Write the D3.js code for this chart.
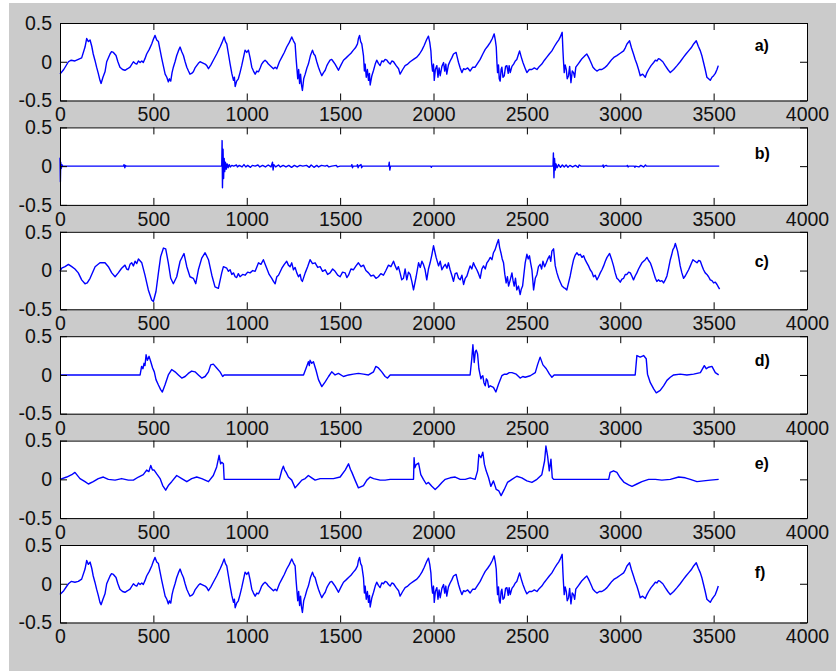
<!DOCTYPE html>
<html>
<head>
<meta charset="utf-8">
<script src="https://cdn.jsdelivr.net/npm/d3@7"></script>
<style>
  body { margin: 0; background: #ffffff; }
  svg { display: block; }
</style>
</head>
<body>
<svg id="chart" width="836" height="671"></svg>
<script>
// tick values shared by every panel
const xTicks = [0, 500, 1000, 1500, 2000, 2500, 3000, 3500, 4000];
const yTicks = [-0.5, 0, 0.5];
const panelNames = ["a)", "b)", "c)", "d)", "e)", "f)"];
const labelX = 3720;
const labelY = [0.216, 0.17, 0.117, 0.194, 0.2, 0.143];

// a) original signal, [sample, value]
const seriesA = [
  [0,-0.16],[20,-0.1],[45,0],[60,0.02],[80,0.01],[98,0.03],[116,0.05],[134,0.19],[143,0.3],[152,0.26],[161,0.28],
  [170,0.2],[178,0.1],[187,0.02],[196,-0.07],[205,-0.15],[214,-0.24],[220,-0.28],[230,-0.2],[241,-0.13],[250,0],
  [268,0.1],[276,0.13],[286,0.12],[300,0.08],[310,0],[321,-0.07],[335,-0.1],[348,-0.11],[362,-0.09],[375,-0.07],
  [393,0],[402,-0.02],[411,-0.03],[420,0.01],[429,-0.01],[438,0.01],[446,-0.01],[455,0.04],[464,0.1],[478,0.16],
  [491,0.23],[500,0.29],[509,0.34],[518,0.28],[527,0.26],[536,0.15],[545,0.04],[554,-0.06],[563,-0.16],[572,-0.2],
  [580,-0.26],[586,-0.22],[593,-0.25],[600,-0.14],[607,-0.07],[616,0],[625,0.08],[634,0.14],[643,0.19],[652,0.13],
  [661,0.08],[670,0],[679,-0.07],[688,-0.12],[696,-0.16],[705,-0.15],[714,-0.13],[723,-0.08],[732,-0.05],[741,-0.02],
  [750,0],[760,-0.01],[777,-0.03],[786,-0.05],[795,-0.09],[808,-0.04],[821,0.02],[839,0.1],[857,0.19],[868,0.25],
  [879,0.32],[886,0.26],[893,0.23],[902,0.1],[911,-0.03],[920,-0.15],[929,-0.24],[934,-0.2],[938,-0.32],[946,-0.25],
  [955,-0.22],[964,-0.14],[973,-0.05],[982,0.05],[991,0.15],[1000,0.12],[1009,0.15],[1018,0.05],[1027,-0.07],[1036,-0.12],
  [1045,-0.16],[1054,-0.12],[1063,-0.13],[1072,-0.08],[1080,-0.03],[1089,0],[1098,0.02],[1107,0],[1116,-0.03],[1130,-0.06],
  [1143,-0.09],[1152,-0.07],[1161,-0.09],[1175,0],[1188,0.06],[1201,0.12],[1214,0.19],[1228,0.25],[1241,0.32],[1250,0.27],
  [1259,0.23],[1264,0.05],[1268,-0.07],[1273,-0.22],[1278,-0.1],[1283,-0.28],[1288,-0.16],[1293,-0.3],[1298,-0.37],[1305,-0.22],
  [1313,-0.16],[1322,-0.08],[1330,-0.03],[1341,0.08],[1352,0.15],[1359,0.1],[1366,0.08],[1375,0],[1384,-0.07],[1393,-0.13],
  [1402,-0.18],[1411,-0.14],[1420,-0.11],[1429,-0.05],[1438,-0.01],[1446,0.02],[1455,0.03],[1464,0],[1473,-0.03],[1482,-0.07],
  [1491,-0.11],[1505,-0.04],[1518,0.02],[1532,0.05],[1545,0.08],[1558,0.11],[1571,0.15],[1582,0.18],[1593,0.23],[1598,0.3],
  [1604,0.34],[1610,0.26],[1616,0.23],[1625,0.08],[1630,-0.12],[1634,-0.03],[1640,-0.2],[1646,-0.1],[1652,-0.24],[1657,-0.15],
  [1661,-0.3],[1670,-0.18],[1679,-0.11],[1688,-0.03],[1696,0.02],[1705,-0.02],[1714,-0.05],[1723,0.01],[1732,0],[1741,0.03],
  [1750,0.02],[1759,-0.01],[1768,-0.03],[1777,0.01],[1786,0],[1800,-0.05],[1813,-0.09],[1821,-0.16],[1835,-0.1],[1848,-0.05],
  [1862,-0.03],[1875,0],[1893,0.03],[1911,0.06],[1925,0.1],[1938,0.15],[1950,0.21],[1964,0.29],[1973,0.33],[1980,0.25],
  [1986,0.14],[1990,-0.02],[1995,-0.12],[2000,-0.03],[2004,-0.24],[2010,-0.1],[2018,-0.05],[2024,-0.2],[2030,-0.08],[2036,-0.18],
  [2045,-0.06],[2054,-0.01],[2060,-0.12],[2066,-0.03],[2071,-0.16],[2080,-0.04],[2089,0.01],[2098,0.05],[2107,0.1],[2121,0.12],
  [2128,0.05],[2134,-0.01],[2143,-0.08],[2152,-0.14],[2161,-0.09],[2170,-0.1],[2183,-0.08],[2196,-0.12],[2210,-0.07],[2223,-0.07],
  [2236,-0.02],[2250,0.03],[2264,0.1],[2277,0.16],[2290,0.2],[2304,0.25],[2315,0.3],[2325,0.36],[2331,0.28],[2336,0.19],
  [2340,-0.02],[2343,-0.14],[2348,-0.04],[2352,-0.22],[2357,-0.25],[2362,-0.1],[2366,-0.07],[2372,-0.2],[2379,-0.18],[2386,-0.06],
  [2393,-0.05],[2400,-0.15],[2405,-0.05],[2411,-0.14],[2420,-0.06],[2429,-0.03],[2438,0.01],[2446,0.03],[2453,0.08],[2461,0.14],
  [2470,0.06],[2479,-0.01],[2490,-0.08],[2500,-0.14],[2513,-0.1],[2527,-0.1],[2540,-0.08],[2554,-0.1],[2567,-0.06],[2580,-0.03],
  [2594,0.02],[2607,0.06],[2620,0.1],[2634,0.14],[2648,0.2],[2661,0.25],[2670,0.28],[2679,0.32],[2689,0.38],[2693,0.15],
  [2696,0.01],[2700,-0.14],[2705,-0.04],[2711,-0.1],[2716,-0.22],[2723,-0.18],[2729,-0.06],[2736,-0.27],[2743,-0.12],[2750,-0.14],
  [2756,-0.2],[2762,-0.07],[2768,-0.05],[2777,-0.02],[2786,0.01],[2795,0.04],[2804,0.06],[2812,0.08],[2821,0.1],[2828,0.07],
  [2836,0.03],[2845,-0.02],[2854,-0.07],[2865,-0.1],[2875,-0.12],[2888,-0.1],[2902,-0.1],[2915,-0.08],[2929,-0.05],[2942,-0.01],
  [2955,0.03],[2968,0.06],[2982,0.08],[3000,0.11],[3018,0.14],[3027,0.18],[3036,0.23],[3050,0.27],[3060,0.18],[3071,0.1],
  [3080,0.03],[3089,-0.03],[3098,-0.1],[3107,-0.18],[3120,-0.16],[3134,-0.2],[3143,-0.14],[3152,-0.1],[3165,-0.05],[3179,-0.01],
  [3188,0.02],[3196,0.01],[3205,0.04],[3214,0.03],[3228,0],[3241,-0.05],[3255,-0.1],[3268,-0.14],[3286,-0.1],[3304,-0.05],
  [3321,0],[3339,0.06],[3352,0.1],[3366,0.14],[3380,0.18],[3393,0.23],[3407,0.27],[3418,0.2],[3429,0.14],[3438,0.07],
  [3446,-0.01],[3455,-0.1],[3464,-0.2],[3473,-0.22],[3482,-0.24],[3491,-0.2],[3500,-0.18],[3509,-0.15],[3518,-0.1],[3525,-0.05]
];

// b) first component, flat with bursts
const seriesB = [
  [0,0.11],[2,-0.2],[4,0.05],[7,-0.03],[10,0.02],[14,0],[340,0],[343,0.02],[347,-0.02],[351,0.01],[355,0],
  [866,0],[868,0.33],[870,-0.28],[873,0.22],[876,-0.16],[879,0.1],[882,-0.07],[886,0.05],[890,-0.04],[895,0.03],
  [900,-0.02],[906,0.02],[912,-0.01],[920,0.01],[930,0],[945,0.015],[950,-0.01],[960,0.01],[975,-0.01],[985,0.02],
  [995,-0.01],[1005,0.01],[1020,-0.015],[1030,0.01],[1045,0],[1060,0.015],[1070,-0.01],[1085,0.01],[1100,-0.01],
  [1115,0.015],[1130,-0.01],[1138,0.05],[1141,-0.05],[1145,0.02],[1155,-0.01],[1170,0.015],[1180,-0.01],[1195,0.01],
  [1210,-0.01],[1225,0.01],[1240,-0.015],[1255,0.01],[1270,-0.01],[1285,0.01],[1300,0],[1320,0.01],[1335,-0.015],
  [1345,0.015],[1360,-0.015],[1375,0.01],[1385,-0.01],[1400,0.01],[1420,0],[1430,0.01],[1440,-0.01],[1455,0],
  [1480,0.01],[1485,-0.01],[1500,0],[1560,0],[1563,0.02],[1566,-0.02],[1570,0],[1590,0],[1593,0.02],[1596,-0.02],
  [1600,0],[1612,0.02],[1615,-0.02],[1620,0],[1760,0],[1763,0.05],[1766,-0.05],[1770,0],[1985,0],[1988,-0.015],
  [1992,0],[2640,0],[2642,0.17],[2645,-0.15],[2648,0.1],[2652,-0.05],[2656,0.03],[2662,-0.02],[2670,0.02],
  [2680,-0.015],[2690,0.015],[2700,-0.01],[2710,0.015],[2720,-0.015],[2730,0.01],[2745,-0.01],[2760,0.01],
  [2775,-0.015],[2780,0.015],[2790,0],[2905,0],[2908,0.015],[2911,-0.015],[2915,0],[2925,0.01],[2930,0],
  [3035,0],[3038,0.01],[3042,-0.01],[3046,0],[3075,0],[3078,-0.015],[3082,0],[3100,-0.01],[3110,0.01],
  [3125,-0.01],[3135,0.015],[3140,0],[3530,0]
];

// c) second component
const seriesC = [
  [0,-0.01],[9,0.03],[27,0.05],[45,0.08],[63,0.05],[80,0.02],[98,-0.03],[116,-0.12],[134,-0.17],[146,-0.16],
  [161,-0.1],[188,0.05],[214,0.1],[241,0.1],[259,0.05],[277,-0.03],[295,-0.08],[312,-0.03],[330,0.03],[348,0.07],
  [357,0.02],[366,0.01],[375,0.08],[384,0.1],[393,0.06],[402,0.12],[411,0.09],[420,0.15],[438,0.1],[455,-0.06],
  [473,-0.25],[491,-0.38],[500,-0.4],[514,-0.27],[527,-0.03],[539,0.18],[554,0.29],[566,0.28],[580,0.1],[593,-0.1],
  [607,-0.17],[625,-0.08],[643,0.12],[664,0.22],[679,0.05],[696,-0.08],[714,-0.1],[727,-0.17],[741,0.01],[759,0.16],
  [777,0.23],[795,0.14],[813,-0.06],[830,-0.21],[848,-0.23],[866,-0.03],[875,0.05],[893,0.03],[902,-0.01],[911,0.01],
  [920,-0.05],[929,-0.03],[938,-0.08],[946,-0.09],[955,-0.04],[964,-0.08],[978,-0.05],[991,-0.06],[1005,-0.02],
  [1018,-0.03],[1032,0],[1045,-0.01],[1063,0.1],[1076,0.08],[1089,0.14],[1107,0.03],[1120,-0.05],[1134,-0.1],
  [1143,-0.14],[1152,-0.17],[1161,-0.08],[1170,-0.06],[1188,0.03],[1201,0.08],[1214,0.12],[1223,0.07],[1232,0.05],
  [1241,0.1],[1250,0.01],[1259,0.04],[1268,-0.03],[1277,-0.08],[1286,-0.05],[1292,-0.12],[1298,-0.14],[1313,-0.03],
  [1326,0.05],[1339,0.14],[1352,0.09],[1366,0.1],[1380,0.04],[1393,0.05],[1406,-0.01],[1420,0.01],[1433,-0.05],
  [1446,-0.03],[1460,0.02],[1473,-0.01],[1487,-0.06],[1500,-0.08],[1513,-0.02],[1527,-0.03],[1536,-0.09],[1545,-0.06],
  [1558,0.02],[1571,0.01],[1585,0.06],[1598,0.1],[1612,0.05],[1625,0.07],[1638,0],[1652,-0.03],[1665,-0.07],
  [1679,-0.06],[1692,-0.1],[1705,-0.08],[1718,-0.04],[1732,-0.06],[1745,0],[1759,0.07],[1772,0.05],[1786,0.12],
  [1795,0.06],[1804,0.01],[1812,0.05],[1821,-0.03],[1830,-0.12],[1839,-0.1],[1848,0.02],[1857,-0.12],[1866,-0.02],
  [1875,-0.05],[1884,-0.14],[1893,-0.25],[1907,-0.08],[1920,0.1],[1929,0.04],[1938,0.12],[1946,0.08],[1955,0.01],
  [1964,-0.12],[1973,0.02],[1982,0.1],[1991,0.2],[2000,0.32],[2014,0.17],[2027,0.06],[2036,0.12],[2045,0.01],
  [2054,0.05],[2063,0.08],[2072,0.03],[2080,0.1],[2089,0.01],[2098,-0.06],[2107,-0.14],[2116,-0.04],[2125,-0.03],
  [2134,-0.1],[2143,-0.12],[2152,-0.06],[2161,-0.18],[2170,-0.1],[2179,-0.07],[2188,0],[2196,0.06],[2205,0.02],
  [2214,0.1],[2223,0.05],[2232,0.01],[2241,-0.04],[2250,-0.1],[2259,0.02],[2268,0.06],[2277,0.02],[2286,0.1],
  [2295,0.13],[2304,0.17],[2313,0.14],[2321,0.23],[2330,0.27],[2339,0.34],[2348,0.4],[2354,0.3],[2361,0.23],
  [2368,0.15],[2375,0.1],[2382,-0.05],[2389,-0.16],[2396,-0.08],[2402,-0.2],[2411,-0.12],[2420,-0.03],[2426,-0.13],
  [2432,-0.2],[2439,-0.1],[2446,-0.25],[2455,-0.2],[2464,-0.31],[2470,-0.24],[2477,-0.2],[2484,-0.05],[2491,0.1],
  [2500,0.21],[2507,0.15],[2514,0.19],[2520,0.1],[2527,0.01],[2536,-0.25],[2545,-0.1],[2554,-0.05],[2562,0.05],
  [2571,0.08],[2579,0.02],[2586,0.12],[2595,0.05],[2604,0.1],[2612,0.15],[2621,0.19],[2628,0.12],[2634,0.25],
  [2643,0.28],[2652,0.06],[2661,-0.03],[2670,-0.1],[2679,-0.15],[2688,-0.2],[2697,-0.22],[2705,-0.23],[2714,-0.25],
  [2723,-0.16],[2732,-0.07],[2741,0.04],[2750,0.14],[2759,0.2],[2768,0.23],[2777,0.2],[2786,0.21],[2795,0.17],
  [2804,0.19],[2812,0.14],[2821,0.1],[2830,0.06],[2839,0.01],[2848,-0.02],[2857,-0.08],[2866,-0.06],[2875,-0.12],
  [2884,-0.08],[2893,-0.03],[2902,0.01],[2911,0.06],[2920,0.12],[2929,0.17],[2943,0.22],[2953,0.15],[2964,0.06],
  [2973,-0.03],[2982,-0.1],[2991,-0.12],[3000,-0.15],[3009,-0.11],[3018,-0.1],[3027,-0.05],[3036,-0.05],[3045,-0.02],
  [3054,-0.03],[3062,-0.07],[3071,-0.12],[3080,-0.07],[3089,-0.03],[3098,0.02],[3107,0.06],[3116,0.1],[3125,0.12],
  [3134,0.14],[3143,0.17],[3152,0.13],[3161,0.1],[3170,0.04],[3179,-0.03],[3188,-0.1],[3196,-0.14],[3205,-0.12],
  [3214,-0.14],[3223,-0.13],[3232,-0.16],[3241,-0.12],[3250,-0.07],[3259,0.03],[3268,0.14],[3275,0.2],[3282,0.27],
  [3289,0.3],[3295,0.35],[3301,0.3],[3307,0.25],[3314,0.16],[3321,0.06],[3330,-0.03],[3339,-0.1],[3348,-0.07],
  [3357,-0.03],[3366,0.01],[3375,0.06],[3382,0.1],[3389,0.14],[3400,0.12],[3411,0.1],[3420,0.13],[3429,0.12],
  [3438,0.06],[3446,0.01],[3455,-0.03],[3464,-0.05],[3473,-0.08],[3482,-0.12],[3491,-0.13],[3500,-0.16],
  [3509,-0.15],[3518,-0.18],[3525,-0.21],[3532,-0.24]
];

// d) third component
const seriesD = [
  [0,0],[429,0],[437,0.11],[444,0.08],[450,0.15],[455,0.12],[461,0.26],[468,0.19],[477,0.24],[486,0.17],[496,0.09],
  [505,0.04],[514,-0.06],[527,-0.13],[539,-0.19],[548,-0.22],[562,-0.13],[580,0],[598,0.07],[616,0.04],[634,0],
  [652,-0.04],[670,-0.02],[687,0.02],[705,0.05],[723,0.04],[741,0],[759,-0.04],[777,-0.02],[795,0.04],[807,0.13],
  [821,0.14],[839,0.09],[857,0.04],[871,-0.02],[879,0],[1304,0],[1318,0.09],[1324,0.13],[1330,0.17],[1335,0.12],
  [1339,0.19],[1348,0.15],[1357,0.17],[1371,0.06],[1384,-0.06],[1402,-0.15],[1420,-0.09],[1438,-0.02],[1455,0.04],
  [1473,0],[1491,0.02],[1518,-0.02],[1545,0],[1571,0.01],[1598,0.02],[1625,0.01],[1652,0],[1679,0.04],[1691,0.11],
  [1705,0.09],[1723,0.04],[1741,-0.02],[1754,-0.04],[1768,0],[2196,0],[2205,0.21],[2211,0.39],[2218,0.16],
  [2224,0.3],[2229,0.32],[2236,0.27],[2243,0.08],[2254,-0.05],[2259,-0.02],[2264,-0.01],[2270,-0.1],[2277,-0.14],
  [2283,-0.05],[2289,-0.07],[2296,-0.16],[2304,-0.14],[2321,-0.16],[2334,-0.22],[2348,-0.12],[2366,-0.01],[2380,0.01],
  [2393,0.01],[2406,0.03],[2420,0.03],[2443,0.01],[2464,-0.04],[2478,-0.02],[2491,-0.03],[2518,-0.01],[2545,0.03],
  [2557,0.13],[2571,0.23],[2586,0.13],[2604,0.08],[2621,0.01],[2634,-0.03],[2646,0],[3080,0],[3089,0.25],[3107,0.23],
  [3125,0.25],[3139,0.21],[3146,0.01],[3161,-0.1],[3179,-0.18],[3193,-0.23],[3214,-0.2],[3232,-0.14],[3250,-0.07],
  [3268,-0.03],[3286,0],[3321,0.01],[3357,0],[3393,0.01],[3429,0.03],[3450,0.12],[3461,0.08],[3473,0.1],[3491,0.11],
  [3509,0.03],[3527,0]
];

// e) fourth component
const seriesE = [
  [0,0],[36,0.03],[63,0.06],[80,0.09],[107,0.01],[134,-0.03],[152,-0.06],[178,-0.03],[205,0.01],[232,0.03],[259,0],
  [295,-0.01],[330,0.01],[366,-0.01],[393,-0.01],[420,0.03],[446,0.06],[464,0.12],[476,0.1],[486,0.18],[495,0.12],
  [504,0.12],[518,0.07],[536,0.01],[550,-0.08],[566,-0.14],[580,-0.08],[598,-0.03],[625,0.05],[652,0.01],[679,-0.03],
  [705,0.01],[732,0.03],[759,0.01],[795,-0.03],[821,0.05],[839,0.16],[852,0.31],[860,0.2],[866,0.22],[875,0.2],
  [879,0],[1175,0],[1188,0.12],[1196,0.17],[1203,0.12],[1211,0.09],[1223,0.03],[1241,-0.01],[1259,-0.11],[1277,-0.06],
  [1295,-0.01],[1313,0.01],[1330,0.05],[1348,0.02],[1366,-0.01],[1393,0.01],[1429,0.01],[1464,0.01],[1500,0.03],
  [1527,0.12],[1545,0.2],[1555,0.13],[1563,0.09],[1580,-0.01],[1598,-0.11],[1625,-0.08],[1643,-0.01],[1661,0.03],
  [1679,0.01],[1714,-0.01],[1741,-0.01],[1768,0],[1893,0],[1896,0.28],[1900,0.15],[1907,0.19],[1920,0.21],[1932,0.06],
  [1946,0],[1961,-0.06],[1973,-0.04],[1991,-0.09],[2009,-0.13],[2027,-0.09],[2045,-0.04],[2063,0],[2089,0.02],
  [2116,0.03],[2143,0],[2170,0],[2196,0.02],[2223,0],[2236,0.11],[2243,0.32],[2254,0.28],[2264,0.35],[2273,0.19],
  [2282,0.11],[2295,0.02],[2307,-0.09],[2321,-0.02],[2336,-0.13],[2350,-0.15],[2362,-0.21],[2379,-0.13],[2396,-0.04],
  [2420,0],[2446,0.04],[2473,0.02],[2500,-0.02],[2527,-0.04],[2554,0],[2580,0.06],[2595,0.24],[2602,0.43],[2611,0.3],
  [2620,0.11],[2629,0.26],[2636,0.02],[2643,0],[2938,0],[2946,0.09],[2964,0.11],[2982,0.09],[3000,0.02],[3021,-0.04],
  [3045,-0.07],[3063,-0.09],[3089,-0.06],[3116,-0.03],[3152,0],[3188,0],[3223,-0.01],[3268,0],[3313,0.03],[3348,0.02],
  [3375,0],[3411,-0.03],[3446,-0.02],[3482,-0.01],[3527,0]
];

// f) reconstructed signal
const seriesF = [
  [0,-0.14],[20,-0.09],[45,0],[60,0.03],[80,0.02],[98,0.03],[116,0.06],[134,0.19],[143,0.3],[152,0.25],[161,0.28],
  [170,0.2],[178,0.1],[187,0.02],[196,-0.07],[205,-0.15],[214,-0.24],[220,-0.27],[230,-0.2],[241,-0.13],[250,0],
  [268,0.1],[276,0.13],[286,0.12],[300,0.08],[310,0],[321,-0.07],[335,-0.1],[348,-0.11],[362,-0.09],[375,-0.07],
  [393,0],[402,-0.02],[411,-0.03],[420,0.01],[429,-0.01],[438,0.01],[446,-0.01],[455,0.04],[464,0.1],[478,0.16],
  [491,0.23],[500,0.29],[509,0.34],[518,0.28],[527,0.26],[536,0.15],[545,0.04],[554,-0.06],[563,-0.16],[572,-0.2],
  [580,-0.26],[586,-0.22],[593,-0.25],[600,-0.14],[607,-0.07],[616,0],[625,0.08],[634,0.14],[643,0.19],[652,0.13],
  [661,0.08],[670,0],[679,-0.07],[688,-0.12],[696,-0.16],[705,-0.15],[714,-0.13],[723,-0.08],[732,-0.05],[741,-0.02],
  [750,0],[760,-0.01],[777,-0.03],[786,-0.05],[795,-0.09],[808,-0.04],[821,0.02],[839,0.1],[857,0.19],[868,0.25],
  [879,0.32],[886,0.26],[893,0.23],[902,0.1],[911,-0.03],[920,-0.15],[929,-0.24],[934,-0.2],[938,-0.31],[946,-0.25],
  [955,-0.22],[964,-0.14],[973,-0.05],[982,0.05],[991,0.15],[1000,0.12],[1009,0.15],[1018,0.05],[1027,-0.07],[1036,-0.12],
  [1045,-0.16],[1054,-0.12],[1063,-0.13],[1072,-0.08],[1080,-0.03],[1089,0],[1098,0.02],[1107,0],[1116,-0.03],[1130,-0.06],
  [1143,-0.09],[1152,-0.07],[1161,-0.09],[1175,0],[1188,0.06],[1201,0.12],[1214,0.19],[1228,0.25],[1241,0.32],[1250,0.27],
  [1259,0.23],[1264,0.05],[1268,-0.07],[1273,-0.22],[1278,-0.1],[1283,-0.28],[1288,-0.16],[1293,-0.3],[1298,-0.37],[1305,-0.22],
  [1313,-0.16],[1322,-0.08],[1330,-0.03],[1341,0.08],[1352,0.15],[1359,0.1],[1366,0.08],[1375,0],[1384,-0.07],[1393,-0.13],
  [1402,-0.18],[1411,-0.14],[1420,-0.11],[1429,-0.05],[1438,-0.01],[1446,0.02],[1455,0.03],[1464,0],[1473,-0.03],[1482,-0.07],
  [1491,-0.11],[1505,-0.04],[1518,0.02],[1532,0.05],[1545,0.08],[1558,0.11],[1571,0.15],[1582,0.18],[1593,0.23],[1598,0.3],
  [1604,0.34],[1610,0.26],[1616,0.23],[1625,0.08],[1630,-0.12],[1634,-0.03],[1640,-0.2],[1646,-0.1],[1652,-0.24],[1657,-0.15],
  [1661,-0.3],[1670,-0.18],[1679,-0.11],[1688,-0.03],[1696,0.02],[1705,-0.02],[1714,-0.05],[1723,0.01],[1732,0],[1741,0.03],
  [1750,0.02],[1759,-0.01],[1768,-0.03],[1777,0.01],[1786,0],[1800,-0.05],[1813,-0.09],[1821,-0.16],[1835,-0.1],[1848,-0.05],
  [1862,-0.03],[1875,0],[1893,0.03],[1911,0.06],[1925,0.1],[1938,0.15],[1950,0.21],[1964,0.29],[1973,0.33],[1980,0.25],
  [1986,0.14],[1990,-0.02],[1995,-0.12],[2000,-0.03],[2004,-0.24],[2010,-0.1],[2018,-0.05],[2024,-0.2],[2030,-0.08],[2036,-0.18],
  [2045,-0.06],[2054,-0.01],[2060,-0.12],[2066,-0.03],[2071,-0.16],[2080,-0.04],[2089,0.01],[2098,0.05],[2107,0.1],[2121,0.12],
  [2128,0.05],[2134,-0.01],[2143,-0.08],[2152,-0.14],[2161,-0.09],[2170,-0.1],[2183,-0.08],[2196,-0.12],[2210,-0.07],[2223,-0.07],
  [2236,-0.02],[2250,0.03],[2264,0.1],[2277,0.16],[2290,0.2],[2304,0.25],[2315,0.3],[2325,0.36],[2331,0.28],[2336,0.19],
  [2340,-0.02],[2343,-0.14],[2348,-0.04],[2352,-0.22],[2357,-0.25],[2362,-0.1],[2366,-0.07],[2372,-0.2],[2379,-0.18],[2386,-0.06],
  [2393,-0.05],[2400,-0.15],[2405,-0.05],[2411,-0.14],[2420,-0.06],[2429,-0.03],[2438,0.01],[2446,0.03],[2453,0.08],[2461,0.14],
  [2470,0.06],[2479,-0.01],[2490,-0.08],[2500,-0.13],[2513,-0.1],[2527,-0.1],[2540,-0.08],[2554,-0.1],[2567,-0.06],[2580,-0.03],
  [2594,0.02],[2607,0.06],[2620,0.1],[2634,0.14],[2648,0.2],[2661,0.25],[2670,0.28],[2679,0.32],[2689,0.38],[2693,0.15],
  [2696,0.01],[2700,-0.14],[2705,-0.04],[2711,-0.1],[2716,-0.22],[2723,-0.18],[2729,-0.06],[2736,-0.26],[2743,-0.12],[2750,-0.14],
  [2756,-0.2],[2762,-0.07],[2768,-0.05],[2777,-0.02],[2786,0.01],[2795,0.04],[2804,0.06],[2812,0.08],[2821,0.1],[2828,0.07],
  [2836,0.03],[2845,-0.02],[2854,-0.07],[2865,-0.1],[2875,-0.12],[2888,-0.1],[2902,-0.1],[2915,-0.08],[2929,-0.05],[2942,-0.01],
  [2955,0.03],[2968,0.06],[2982,0.08],[3000,0.11],[3018,0.14],[3027,0.18],[3036,0.23],[3050,0.27],[3060,0.18],[3071,0.1],
  [3080,0.03],[3089,-0.03],[3098,-0.1],[3107,-0.18],[3120,-0.16],[3134,-0.19],[3143,-0.14],[3152,-0.1],[3165,-0.05],[3179,-0.01],
  [3188,0.02],[3196,0.01],[3205,0.04],[3214,0.03],[3228,0],[3241,-0.05],[3255,-0.1],[3268,-0.14],[3286,-0.1],[3304,-0.05],
  [3321,0],[3339,0.06],[3352,0.1],[3366,0.14],[3380,0.18],[3393,0.23],[3407,0.27],[3418,0.2],[3429,0.14],[3438,0.07],
  [3446,-0.01],[3455,-0.1],[3464,-0.2],[3473,-0.22],[3482,-0.24],[3491,-0.2],[3500,-0.17],[3509,-0.14],[3518,-0.08],[3525,-0.03]
];

const allSeries = [seriesA, seriesB, seriesC, seriesD, seriesE, seriesF];

const width = 836, height = 671;
const plotLeft = 60, plotRight = 807;
const firstTop = 23, panelStep = 104.4, panelHeight = 77.5;
const tickFont = "'Liberation Sans', Arial, Helvetica, sans-serif";

const svg = d3.select("#chart");

// figure background
svg.append("rect")
  .attr("x", 9).attr("y", 3)
  .attr("width", width - 9).attr("height", height - 3)
  .attr("fill", "#cbcbcb");

const xScale = d3.scaleLinear().domain([0, 4000]).range([plotLeft, plotRight]);
const plainNumber = d => String(d);

allSeries.forEach((series, i) => {
  const top = firstTop + i * panelStep;
  const yScale = d3.scaleLinear().domain([-0.5, 0.5]).range([top + panelHeight, top]);

  const g = svg.append("g");

  // white axes area
  g.append("rect")
    .attr("x", plotLeft).attr("y", top)
    .attr("width", plotRight - plotLeft).attr("height", panelHeight)
    .attr("fill", "#ffffff");

  // signal
  const line = d3.line()
    .x(d => xScale(d[0]))
    .y(d => yScale(d[1]));

  g.append("path")
    .datum(series)
    .attr("fill", "none")
    .attr("stroke", "#0000ff")
    .attr("stroke-width", 1.4)
    .attr("stroke-linejoin", "round")
    .attr("d", line);

  // axes, ticks pointing inward on all four sides
  const bottomAxis = g.append("g")
    .attr("transform", `translate(0,${top + panelHeight})`)
    .call(d3.axisBottom(xScale).tickValues(xTicks).tickSizeInner(-7).tickSizeOuter(0).tickPadding(7).tickFormat(plainNumber));
  g.append("g")
    .attr("transform", `translate(0,${top})`)
    .call(d3.axisTop(xScale).tickValues(xTicks).tickSizeInner(-7).tickSizeOuter(0).tickFormat(""));
  const leftAxis = g.append("g")
    .attr("transform", `translate(${plotLeft},0)`)
    .call(d3.axisLeft(yScale).tickValues(yTicks).tickSizeInner(-7).tickSizeOuter(0).tickPadding(8).tickFormat(plainNumber));
  g.append("g")
    .attr("transform", `translate(${plotRight},0)`)
    .call(d3.axisRight(yScale).tickValues(yTicks).tickSizeInner(-7).tickSizeOuter(0).tickFormat(""));

  g.selectAll(".domain").attr("stroke", "#000").attr("stroke-width", 1);
  g.selectAll(".tick line").attr("stroke", "#000").attr("stroke-width", 1);
  [bottomAxis, leftAxis].forEach(a => a.selectAll("text")
    .attr("fill", "#111")
    .style("font-family", tickFont)
    .style("font-size", "19.5px"));

  // panel tag
  g.append("text")
    .attr("x", xScale(labelX))
    .attr("y", yScale(labelY[i]))
    .attr("dy", "0.35em")
    .style("font-family", "Arial, 'Liberation Sans', sans-serif")
    .style("font-weight", "bold")
    .style("font-size", "16px")
    .attr("fill", "#000")
    .text(panelNames[i]);
});
</script>
</body>
</html>
